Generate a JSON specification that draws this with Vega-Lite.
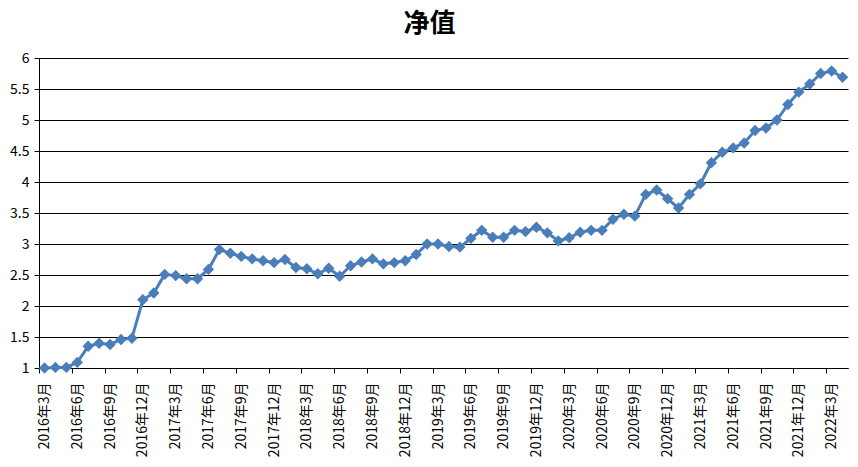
{
  "$schema": "https://vega.github.io/schema/vega-lite/v6.json",
  "width": 809,
  "height": 310,
  "autosize": {"type": "none"},
  "padding": {"left": 39, "top": 58, "right": 10, "bottom": 99},
  "background": "white",
  "config": {"view": {"stroke": null}},
  "title": {"text": "净值", "font": "Noto Sans CJK SC", "fontSize": 26, "fontWeight": "bold", "color": "black", "dx": -14, "offset": 14},
  "data": {"values": [
    {"month": "2016年3月", "v": 1.00},
    {"month": "2016年4月", "v": 1.01},
    {"month": "2016年5月", "v": 1.01},
    {"month": "2016年6月", "v": 1.09},
    {"month": "2016年7月", "v": 1.35},
    {"month": "2016年8月", "v": 1.40},
    {"month": "2016年9月", "v": 1.38},
    {"month": "2016年10月", "v": 1.46},
    {"month": "2016年11月", "v": 1.48},
    {"month": "2016年12月", "v": 2.10},
    {"month": "2017年1月", "v": 2.21},
    {"month": "2017年2月", "v": 2.51},
    {"month": "2017年3月", "v": 2.49},
    {"month": "2017年4月", "v": 2.44},
    {"month": "2017年5月", "v": 2.44},
    {"month": "2017年6月", "v": 2.59},
    {"month": "2017年7月", "v": 2.91},
    {"month": "2017年8月", "v": 2.85},
    {"month": "2017年9月", "v": 2.80},
    {"month": "2017年10月", "v": 2.76},
    {"month": "2017年11月", "v": 2.73},
    {"month": "2017年12月", "v": 2.70},
    {"month": "2018年1月", "v": 2.75},
    {"month": "2018年2月", "v": 2.62},
    {"month": "2018年3月", "v": 2.60},
    {"month": "2018年4月", "v": 2.52},
    {"month": "2018年5月", "v": 2.61},
    {"month": "2018年6月", "v": 2.48},
    {"month": "2018年7月", "v": 2.65},
    {"month": "2018年8月", "v": 2.71},
    {"month": "2018年9月", "v": 2.76},
    {"month": "2018年10月", "v": 2.68},
    {"month": "2018年11月", "v": 2.70},
    {"month": "2018年12月", "v": 2.73},
    {"month": "2019年1月", "v": 2.83},
    {"month": "2019年2月", "v": 3.00},
    {"month": "2019年3月", "v": 3.00},
    {"month": "2019年4月", "v": 2.96},
    {"month": "2019年5月", "v": 2.95},
    {"month": "2019年6月", "v": 3.09},
    {"month": "2019年7月", "v": 3.22},
    {"month": "2019年8月", "v": 3.11},
    {"month": "2019年9月", "v": 3.11},
    {"month": "2019年10月", "v": 3.22},
    {"month": "2019年11月", "v": 3.20},
    {"month": "2019年12月", "v": 3.27},
    {"month": "2020年1月", "v": 3.18},
    {"month": "2020年2月", "v": 3.05},
    {"month": "2020年3月", "v": 3.10},
    {"month": "2020年4月", "v": 3.19},
    {"month": "2020年5月", "v": 3.22},
    {"month": "2020年6月", "v": 3.22},
    {"month": "2020年7月", "v": 3.40},
    {"month": "2020年8月", "v": 3.48},
    {"month": "2020年9月", "v": 3.45},
    {"month": "2020年10月", "v": 3.80},
    {"month": "2020年11月", "v": 3.87},
    {"month": "2020年12月", "v": 3.73},
    {"month": "2021年1月", "v": 3.58},
    {"month": "2021年2月", "v": 3.80},
    {"month": "2021年3月", "v": 3.97},
    {"month": "2021年4月", "v": 4.31},
    {"month": "2021年5月", "v": 4.48},
    {"month": "2021年6月", "v": 4.55},
    {"month": "2021年7月", "v": 4.63},
    {"month": "2021年8月", "v": 4.83},
    {"month": "2021年9月", "v": 4.87},
    {"month": "2021年10月", "v": 5.00},
    {"month": "2021年11月", "v": 5.25},
    {"month": "2021年12月", "v": 5.45},
    {"month": "2022年1月", "v": 5.58},
    {"month": "2022年2月", "v": 5.75},
    {"month": "2022年3月", "v": 5.79},
    {"month": "2022年4月", "v": 5.69}
  ]},
  "mark": {"type": "line", "color": "#4a7ebb", "strokeWidth": 3, "point": {"shape": "diamond", "size": 130, "filled": true, "color": "#4a7ebb", "opacity": 1}},
  "encoding": {
    "x": {
      "field": "month", "type": "ordinal", "sort": null,
      "scale": {"type": "point", "padding": 0.5},
      "axis": {
        "title": null,
        "values": ["2016年3月","2016年6月","2016年9月","2016年12月","2017年3月","2017年6月","2017年9月","2017年12月","2018年3月","2018年6月","2018年9月","2018年12月","2019年3月","2019年6月","2019年9月","2019年12月","2020年3月","2020年6月","2020年9月","2020年12月","2021年3月","2021年6月","2021年9月","2021年12月","2022年3月"],
        "labelAngle": -90,
        "labelFont": "Noto Sans CJK SC",
        "labelFontSize": 14,
        "labelColor": "black",
        "labelPadding": 9,
        "labelOffset": 5.47,
        "tickOffset": -5.47,
        "tickSize": 5,
        "tickColor": "black",
        "domainColor": "black",
        "domainWidth": 1,
        "grid": false,
        "labelOverlap": false
      }
    },
    "y": {
      "field": "v", "type": "quantitative",
      "scale": {"domain": [1, 6], "nice": false, "zero": false},
      "axis": {
        "title": null,
        "values": [1, 1.5, 2, 2.5, 3, 3.5, 4, 4.5, 5, 5.5, 6],
        "format": "~g",
        "labelFont": "Noto Sans CJK SC",
        "labelFontSize": 14,
        "labelColor": "black",
        "labelPadding": 5,
        "tickSize": 5,
        "tickColor": "black",
        "domainColor": "black",
        "grid": true,
        "gridColor": "black",
        "gridOpacity": 1,
        "gridWidth": 1
      }
    }
  }
}
